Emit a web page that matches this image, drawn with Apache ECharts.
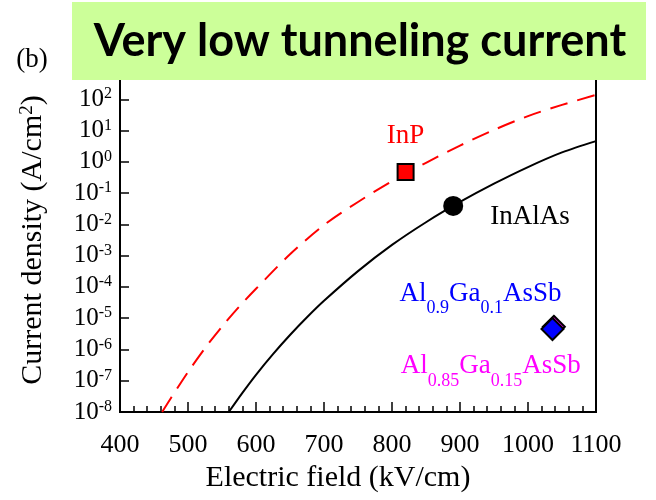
<!DOCTYPE html>
<html>
<head>
<meta charset="utf-8">
<script src="https://cdn.jsdelivr.net/npm/echarts@6/dist/echarts.min.js"></script>
<style>
  html, body { margin: 0; padding: 0; background: #fff; }
  #chart { width: 656px; height: 500px; }
</style>
</head>
<body>
<div id="chart"></div>
<script>
// electric field (kV/cm) and current density (A/cm2)
const inpField = [462, 475, 500, 525, 550, 575, 600, 650, 700, 750, 800, 850, 900, 950, 1000, 1050, 1100]
const inpCurrent = [1e-8, 2.8e-8, 1.9e-7, 1.1e-6, 5.4e-6, 2.3e-5, 8.7e-5, 1.1e-3, 9.5e-3, 5.2e-2, 0.24, 0.93, 3.3, 10.5, 29, 66, 138]
const inalasField = [560, 580, 600, 625, 650, 675, 700, 750, 800, 850, 900, 950, 1000, 1050, 1100]
const inalasCurrent = [1e-8, 4.1e-8, 1.55e-7, 7.1e-7, 2.9e-6, 1.07e-5, 3.6e-5, 3.2e-4, 2.2e-3, 1.17e-2, 5.2e-2, 0.2, 0.68, 2.0, 4.6]

const inpPoint = [820, 0.47]
const inalasPoint = [890, 0.039]
const al09Point = [1036, 4.5e-6]
const al085Point = [1038, 5.3e-6]

const xTicks = [400, 500, 600, 700, 800, 900, 1000, 1100]

const serif = 'Liberation Serif'
const chart = echarts.init(document.getElementById('chart'))

function zip(xs, ys) {
  return xs.map((x, i) => [x, ys[i]])
}

const subRich = {
  a: { fontFamily: serif, fontSize: 27, lineHeight: 30, verticalAlign: 'top' },
  s: { fontFamily: serif, fontSize: 18, lineHeight: 18, padding: [19, 0, 0, 0], verticalAlign: 'top' }
}

const option = {
  animation: false,
  grid: { left: 120, right: 60, top: 68, bottom: 88, show: true, borderColor: '#000', borderWidth: 2 },
  xAxis: {
    type: 'value',
    min: xTicks[0],
    max: xTicks[xTicks.length - 1],
    interval: 100,
    name: 'Electric field (kV/cm)',
    nameLocation: 'middle',
    nameGap: 46,
    nameTextStyle: { fontFamily: serif, fontSize: 30, color: '#000', padding: [0, 40, 0, 0] },
    axisLine: { lineStyle: { color: '#000', width: 2 } },
    axisTick: { inside: true, length: 10, lineStyle: { color: '#000', width: 1.5 } },
    minorTick: { show: true, splitNumber: 5, length: 6, lineStyle: { color: '#000', width: 1.5 } },
    splitLine: { show: false },
    axisLabel: {
      fontFamily: serif, fontSize: 26, color: '#000', margin: 20,
      formatter: function (v) { return String(v) }
    }
  },
  yAxis: {
    type: 'log',
    logBase: 10,
    min: 1e-8,
    max: 1e3,
    interval: 1,
    name: 'Current density (A/cm{s|2})',
    nameLocation: 'middle',
    nameGap: 72,
    nameTextStyle: {
      fontFamily: serif, fontSize: 30, color: '#000',
      rich: {
        s: { fontFamily: serif, fontSize: 19, verticalAlign: 'top', padding: [0, 0, 10, 0] }
      }
    },
    axisLine: { lineStyle: { color: '#000', width: 2 } },
    axisTick: { inside: true, length: 9, lineStyle: { color: '#000', width: 1.5 } },
    splitLine: { show: false },
    axisLabel: {
      margin: 8,
      showMinLabel: true,
      formatter: function (v) {
        const e = Math.round(Math.log10(v))
        if (e > 2) return ''
        return '{b|10}{e|' + e + '}'
      },
      rich: {
        b: { fontFamily: serif, fontSize: 25, color: '#000', lineHeight: 26 },
        e: { fontFamily: serif, fontSize: 16, color: '#000', lineHeight: 12, verticalAlign: 'top' }
      }
    }
  },
  series: [
    {
      type: 'line',
      data: zip(inpField, inpCurrent),
      smooth: 0.3,
      showSymbol: false,
      lineStyle: { color: '#ff0000', width: 2, type: [18, 10] },
      z: 2
    },
    {
      type: 'line',
      data: zip(inalasField, inalasCurrent),
      smooth: 0.3,
      showSymbol: false,
      lineStyle: { color: '#000', width: 2 },
      z: 2
    },
    {
      type: 'scatter',
      data: [inpPoint],
      symbol: 'rect',
      symbolSize: 16,
      itemStyle: { color: '#ff0000', borderColor: '#000', borderWidth: 2, opacity: 1 },
      label: {
        show: true, position: 'top', distance: 14, formatter: 'InP',
        fontFamily: serif, fontSize: 27, color: '#ff0000'
      },
      z: 5
    },
    {
      type: 'scatter',
      data: [inalasPoint],
      symbol: 'circle',
      symbolSize: 20,
      itemStyle: { color: '#000', opacity: 1 },
      label: {
        show: true, position: 'right', distance: 27, offset: [0, 11], formatter: 'InAlAs',
        fontFamily: serif, fontSize: 27, color: '#000'
      },
      z: 5
    },
    {
      type: 'scatter',
      data: [al085Point],
      symbol: 'diamond',
      symbolSize: 22,
      itemStyle: { color: '#ff00ff', borderColor: '#000', borderWidth: 2, opacity: 1 },
      label: {
        show: true, position: 'inside', offset: [-63, 41],
        formatter: '{a|Al}{s|0.85}{a|Ga}{s|0.15}{a|AsSb}',
        color: '#ff00ff', rich: subRich
      },
      z: 5
    },
    {
      type: 'scatter',
      data: [al09Point],
      symbol: 'diamond',
      symbolSize: 22,
      itemStyle: { color: '#0000ff', borderColor: '#000', borderWidth: 2, opacity: 1 },
      label: {
        show: true, position: 'inside', offset: [-72, -34],
        formatter: '{a|Al}{s|0.9}{a|Ga}{s|0.1}{a|AsSb}',
        color: '#0000ff', rich: subRich
      },
      z: 6
    }
  ],
  graphic: [
    {
      type: 'rect',
      shape: { x: 72, y: 2, width: 574, height: 78 },
      style: { fill: '#ccff99' },
      z: 100
    },
    {
      type: 'text',
      x: 360,
      y: 41,
      style: {
        text: 'Very low tunneling current',
        fontFamily: 'Lato', fontWeight: 'bold', fontSize: 45,
        fill: '#000', align: 'center', verticalAlign: 'middle'
      },
      z: 101
    },
    {
      type: 'text',
      x: 32,
      y: 60,
      style: {
        text: '(b)', fontFamily: serif, fontSize: 27, fill: '#000',
        align: 'center', verticalAlign: 'middle'
      },
      z: 101
    }
  ]
}

chart.setOption(option)
</script>
</body>
</html>
